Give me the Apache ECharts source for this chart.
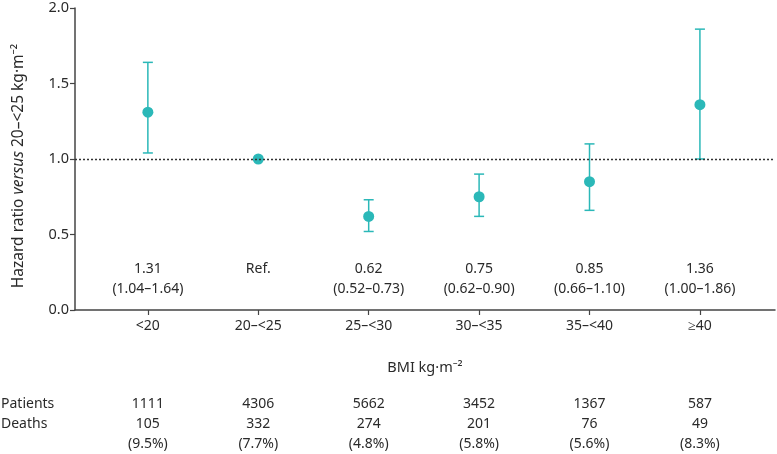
<!DOCTYPE html>
<html><head><meta charset="utf-8">
<script src="https://cdn.jsdelivr.net/npm/echarts@6/dist/echarts.min.js"></script>
<style>html,body{margin:0;padding:0;background:#fff}#c{width:777px;height:454px}</style>
</head><body><div id="c"></div>
<script>
const categories = ['<20', '20\u2013<25', '25\u2013<30', '30\u2013<35', '35\u2013<40', '\u226540'];
const hazardRatio = [1.31, 1.00, 0.62, 0.75, 0.85, 1.36];
const ciLow = [1.04, null, 0.52, 0.62, 0.66, 1.00];
const ciHigh = [1.64, null, 0.73, 0.90, 1.10, 1.86];
const estimateText = ['1.31', 'Ref.', '0.62', '0.75', '0.85', '1.36'];
const ciText = ['(1.04\u20131.64)', '', '(0.52\u20130.73)', '(0.62\u20130.90)', '(0.66\u20131.10)', '(1.00\u20131.86)'];
const patients = [1111, 4306, 5662, 3452, 1367, 587];
const deaths = [105, 332, 274, 201, 76, 49];
const deathPct = ['9.5%', '7.7%', '4.8%', '5.8%', '5.6%', '8.3%'];

const FONT = 'Noto Sans';
const TEAL = '#2bb8b8';
const INK = '#2a2a2a';
const catIdx = categories.map((_, i) => i);

const chart = echarts.init(document.getElementById('c'), null, {renderer: 'canvas'});
chart.setOption({
  animation: false,
  textStyle: {fontFamily: FONT},
  grid: {left: 75, right: 2, top: 8, bottom: 143, containLabel: false},
  xAxis: [{
    type: 'value', min: -0.66, max: 5.68,
    name: 'BMI kg\u00b7m\u207b\u00b2', nameLocation: 'middle', nameGap: 50,
    nameTextStyle: {fontSize: 14.5, color: INK, fontFamily: FONT},
    axisLine: {show: true, onZero: false, lineStyle: {color: '#444', width: 1.5}},
    axisTick: {show: true, length: 5, customValues: catIdx, lineStyle: {color: '#444', width: 1.2}},
    axisLabel: {customValues: catIdx, formatter: v => categories[Math.round(v)], fontSize: 14, color: INK, margin: 9, fontFamily: FONT},
    splitLine: {show: false}
  }, {
    type: 'value', min: -0.66, max: 5.68, position: 'bottom', offset: 84,
    axisLine: {show: false, onZero: false}, axisTick: {show: false}, splitLine: {show: false},
    axisLabel: {customValues: catIdx, margin: 0, fontSize: 14, color: INK, lineHeight: 20, fontFamily: FONT,
      formatter: v => { const i = Math.round(v); return patients[i] + '\n' + deaths[i] + '\n(' + deathPct[i] + ')'; }}
  }],
  yAxis: {
    type: 'value', min: 0, max: 2, interval: 0.5,
    name: '{a|Hazard ratio }{i|versus}{a| 20\u2013<25 kg\u00b7m\u207b\u00b2}',
    nameLocation: 'middle', nameGap: 48,
    nameTextStyle: {padding: [0, 14, 0, 0], rich: {
      a: {fontSize: 15.5, color: INK, fontFamily: FONT},
      i: {fontSize: 15.5, color: INK, fontFamily: FONT, fontStyle: 'italic'}
    }},
    axisLine: {show: true, onZero: false, lineStyle: {color: '#444', width: 1.5}},
    axisTick: {show: true, length: 5, lineStyle: {color: '#444', width: 1.2}},
    axisLabel: {formatter: v => v.toFixed(1), fontSize: 14.5, color: INK, margin: 6, fontFamily: FONT},
    splitLine: {show: false}
  },
  graphic: [{
    type: 'text', left: 1, top: 394,
    style: {text: 'Patients\nDeaths', font: '14px "Noto Sans"', fill: INK, lineHeight: 20}
  }],
  series: [{
    type: 'custom',
    data: catIdx.map(i => [i, ciLow[i], ciHigh[i]]),
    renderItem: (params, api) => {
      const lo = api.value(1), hi = api.value(2);
      if (lo == null || isNaN(lo)) return null;
      const x = api.value(0);
      const pLo = api.coord([x, lo]), pHi = api.coord([x, hi]);
      const cap = 5;
      const st = {stroke: TEAL, lineWidth: 1.5};
      return {type: 'group', children: [
        {type: 'line', shape: {x1: pLo[0], y1: pLo[1], x2: pHi[0], y2: pHi[1]}, style: st},
        {type: 'line', shape: {x1: pLo[0] - cap, y1: pLo[1], x2: pLo[0] + cap, y2: pLo[1]}, style: st},
        {type: 'line', shape: {x1: pHi[0] - cap, y1: pHi[1], x2: pHi[0] + cap, y2: pHi[1]}, style: st}
      ]};
    },
    z: 2
  }, {
    type: 'scatter',
    data: catIdx.map(i => [i, hazardRatio[i]]),
    symbol: 'circle', symbolSize: 11,
    itemStyle: {color: TEAL, opacity: 1},
    z: 3,
    markLine: {
      silent: true, symbol: 'none', label: {show: false},
      lineStyle: {color: '#333', type: [2, 2], width: 1.3},
      data: [{yAxis: 1}]
    }
  }, {
    type: 'custom',
    data: catIdx.map(i => [i]),
    renderItem: (params, api) => {
      const i = api.value(0);
      const p1 = api.coord([i, 0.27]), p2 = api.coord([i, 0.14]);
      const ts = {font: '14px "Noto Sans"', fill: INK, textAlign: 'center', textVerticalAlign: 'middle'};
      return {type: 'group', children: [
        {type: 'text', x: p1[0], y: p1[1], style: Object.assign({text: estimateText[i]}, ts)},
        {type: 'text', x: p2[0], y: p2[1], style: Object.assign({text: ciText[i]}, ts)}
      ]};
    },
    z: 4
  }]
});
</script></body></html>
